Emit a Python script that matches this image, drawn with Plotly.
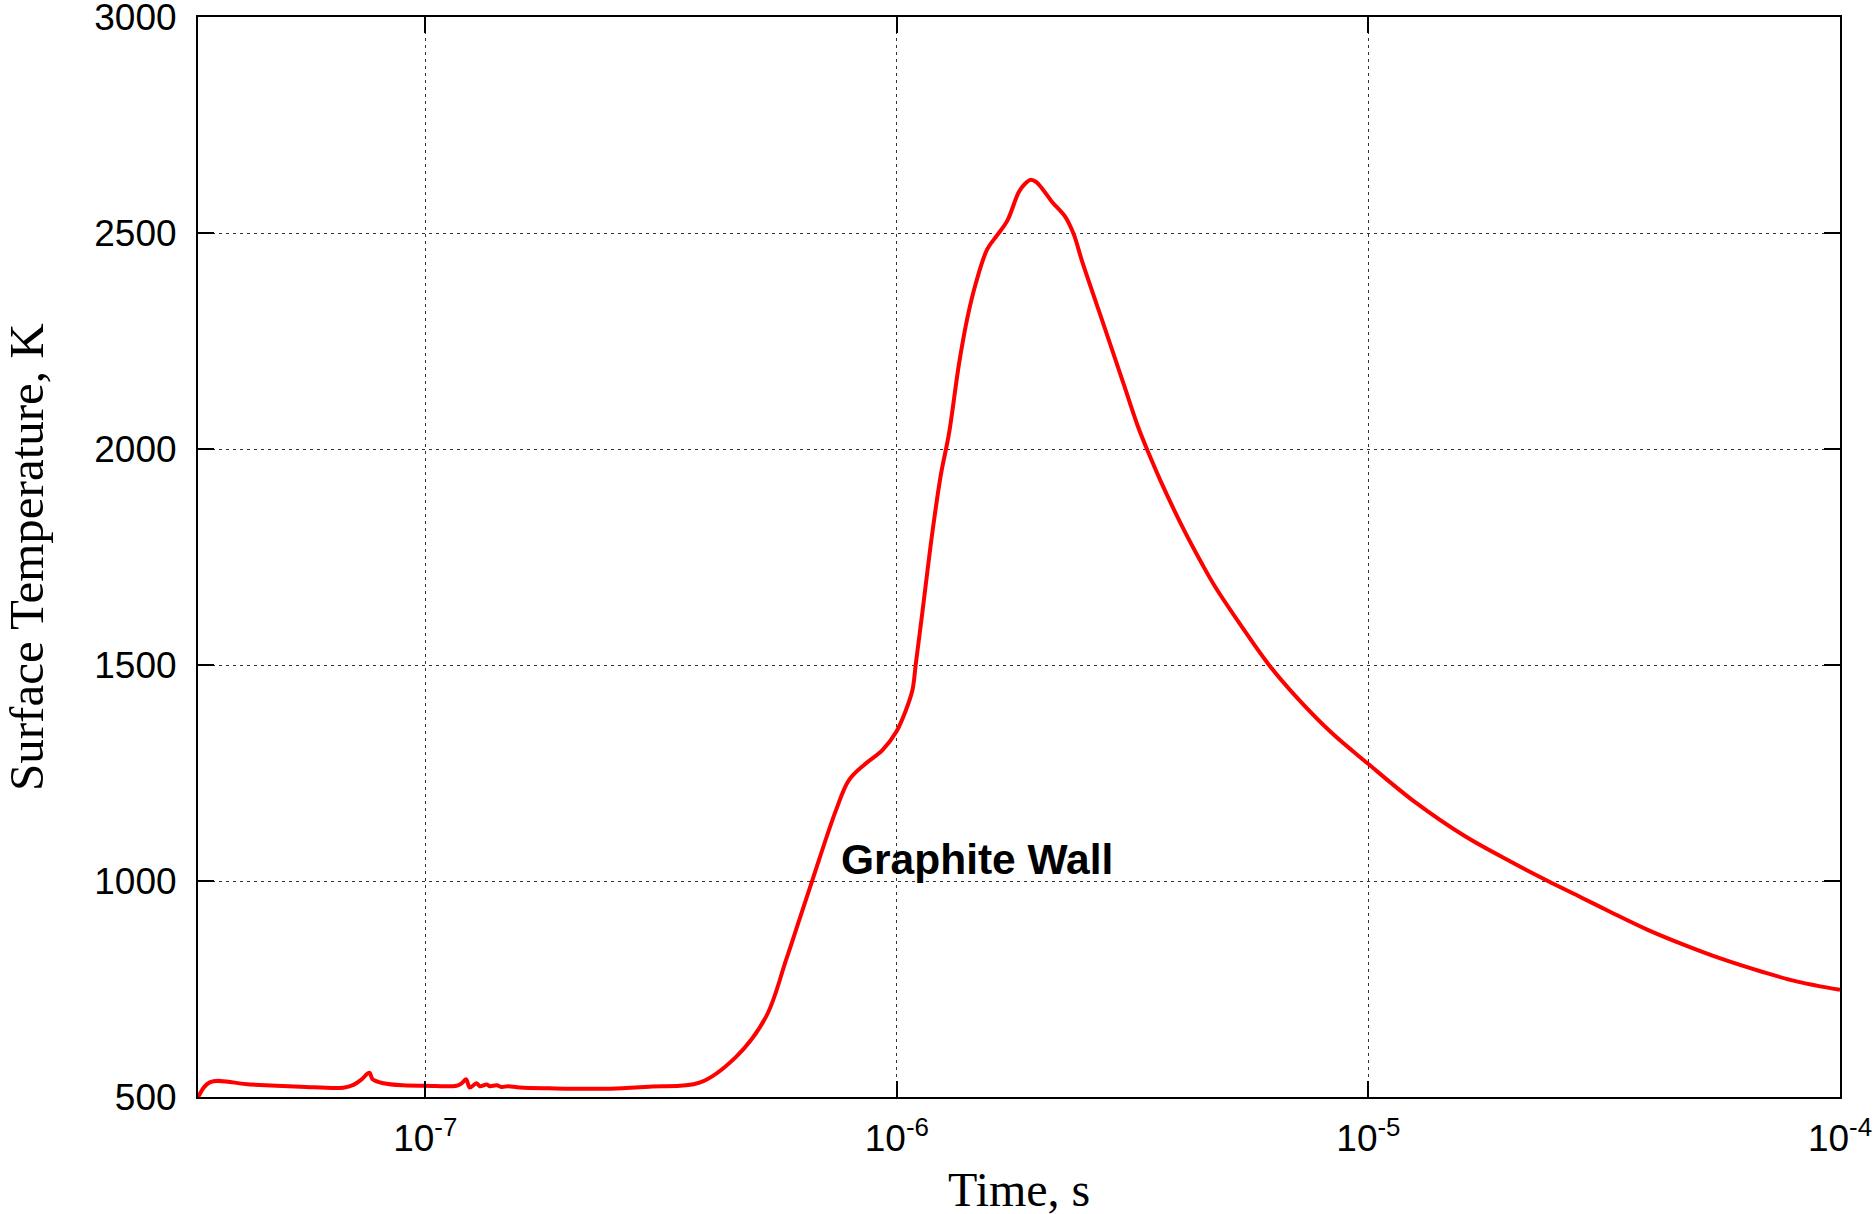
import plotly.graph_objects as go

# Surface temperature history of a graphite wall (time in s, temperature in K)
time_s = [
    3.30e-8, 3.49e-8, 4.25e-8, 5.43e-8, 6.70e-8, 7.04e-8, 7.33e-8, 7.61e-8,
    7.73e-8, 8.15e-8, 8.98e-8, 1.00e-7, 1.165e-7, 1.195e-7, 1.22e-7, 1.243e-7,
    1.284e-7, 1.305e-7, 1.350e-7, 1.370e-7, 1.418e-7, 1.453e-7, 1.496e-7,
    1.586e-7, 1.835e-7, 2.342e-7, 2.988e-7, 3.814e-7, 4.56e-7, 5.28e-7,
    5.82e-7, 6.21e-7, 6.62e-7, 7.43e-7, 7.92e-7, 8.59e-7, 9.32e-7, 9.98e-7,
    1.044e-6, 1.079e-6, 1.097e-6, 1.132e-6, 1.189e-6, 1.239e-6, 1.290e-6,
    1.354e-6, 1.410e-6, 1.469e-6, 1.554e-6, 1.632e-6, 1.714e-6, 1.814e-6,
    1.870e-6, 1.920e-6, 1.975e-6, 2.032e-6, 2.134e-6, 2.278e-6, 2.372e-6,
    2.470e-6, 2.768e-6, 3.027e-6, 3.245e-6, 3.420e-6, 3.628e-6, 4.022e-6,
    4.427e-6, 4.731e-6, 5.401e-6, 6.155e-6, 7.101e-6, 8.354e-6, 9.94e-6,
    1.254e-5, 1.600e-5, 2.042e-5, 2.402e-5, 2.826e-5, 3.237e-5, 3.911e-5,
    4.701e-5, 5.637e-5, 6.830e-5, 8.123e-5, 1.0e-4,
]
temperature_k = [
    500, 534, 529, 524, 521.5, 528, 541, 556,
    541, 532, 527, 526, 526, 532, 541, 522,
    532, 525, 529, 525, 527, 523, 525,
    522, 520, 519, 524, 533, 593, 686,
    817, 910, 1002, 1164, 1234, 1272, 1303, 1346,
    1394, 1442, 1503, 1620, 1806, 1939, 2036,
    2196, 2302, 2382, 2462, 2495, 2528, 2595,
    2614, 2623, 2618, 2603, 2572, 2537, 2497,
    2435, 2276, 2150, 2052, 1990, 1925, 1822,
    1736, 1681, 1587, 1500, 1421, 1343, 1273,
    1183, 1104, 1040, 1000, 962, 930, 887,
    851, 819, 790, 767, 748,
]

x_tick_vals = [1e-7, 1e-6, 1e-5, 1e-4]
x_tick_text = ["10<sup>-7</sup>", "10<sup>-6</sup>", "10<sup>-5</sup>", "10<sup>-4</sup>"]
y_tick_vals = [500, 1000, 1500, 2000, 2500, 3000]

sans = "Liberation Sans, Arial, Helvetica, sans-serif"
serif = "Liberation Serif, Times New Roman, Times, serif"

fig = go.Figure()
fig.add_trace(go.Scatter(
    x=time_s, y=temperature_k, mode="lines",
    line=dict(color="#ff0000", width=4, shape="spline", smoothing=1.0),
    showlegend=False, hoverinfo="x+y",
))

axis_common = dict(
    showline=True, linecolor="black", linewidth=2, mirror="ticks",
    ticks="inside", ticklen=16, tickwidth=2, tickcolor="black",
    showgrid=True, gridcolor="#333333", gridwidth=1, griddash="3px,4px",
    zeroline=False, ticklabeloverflow="allow",
    tickfont=dict(family=sans, size=37, color="black"),
)

fig.update_xaxes(
    type="log", range=[-7.482, -4.0],
    tickvals=x_tick_vals, ticktext=x_tick_text,
    ticklabelstandoff=8,
    **axis_common,
)
fig.update_yaxes(
    range=[500, 3000], tickvals=y_tick_vals,
    ticklabelstandoff=12,
    **axis_common,
)

fig.add_annotation(
    text="Time, s", xref="paper", yref="paper", x=0.5, y=0,
    xanchor="center", yanchor="middle", yshift=-92, borderpad=0,
    showarrow=False, font=dict(family=serif, size=48, color="black"),
)
fig.add_annotation(
    text="Surface Temperature, K", xref="paper", yref="paper", x=0, y=0.5,
    xanchor="center", yanchor="middle", xshift=-172, textangle=-90,
    borderpad=0, showarrow=False,
    font=dict(family=serif, size=49, color="black"),
)
fig.add_annotation(
    text="<b>Graphite Wall</b>", x=-5.8292, y=1049, xref="x", yref="y",
    xanchor="center", yanchor="middle", showarrow=False,
    font=dict(family=sans, size=42.5, color="black"),
)

fig.update_layout(
    width=1874, height=1214,
    margin=dict(l=198, r=34, t=17, b=117, autoexpand=False),
    paper_bgcolor="white", plot_bgcolor="white",
)

fig.write_html("out.html")
